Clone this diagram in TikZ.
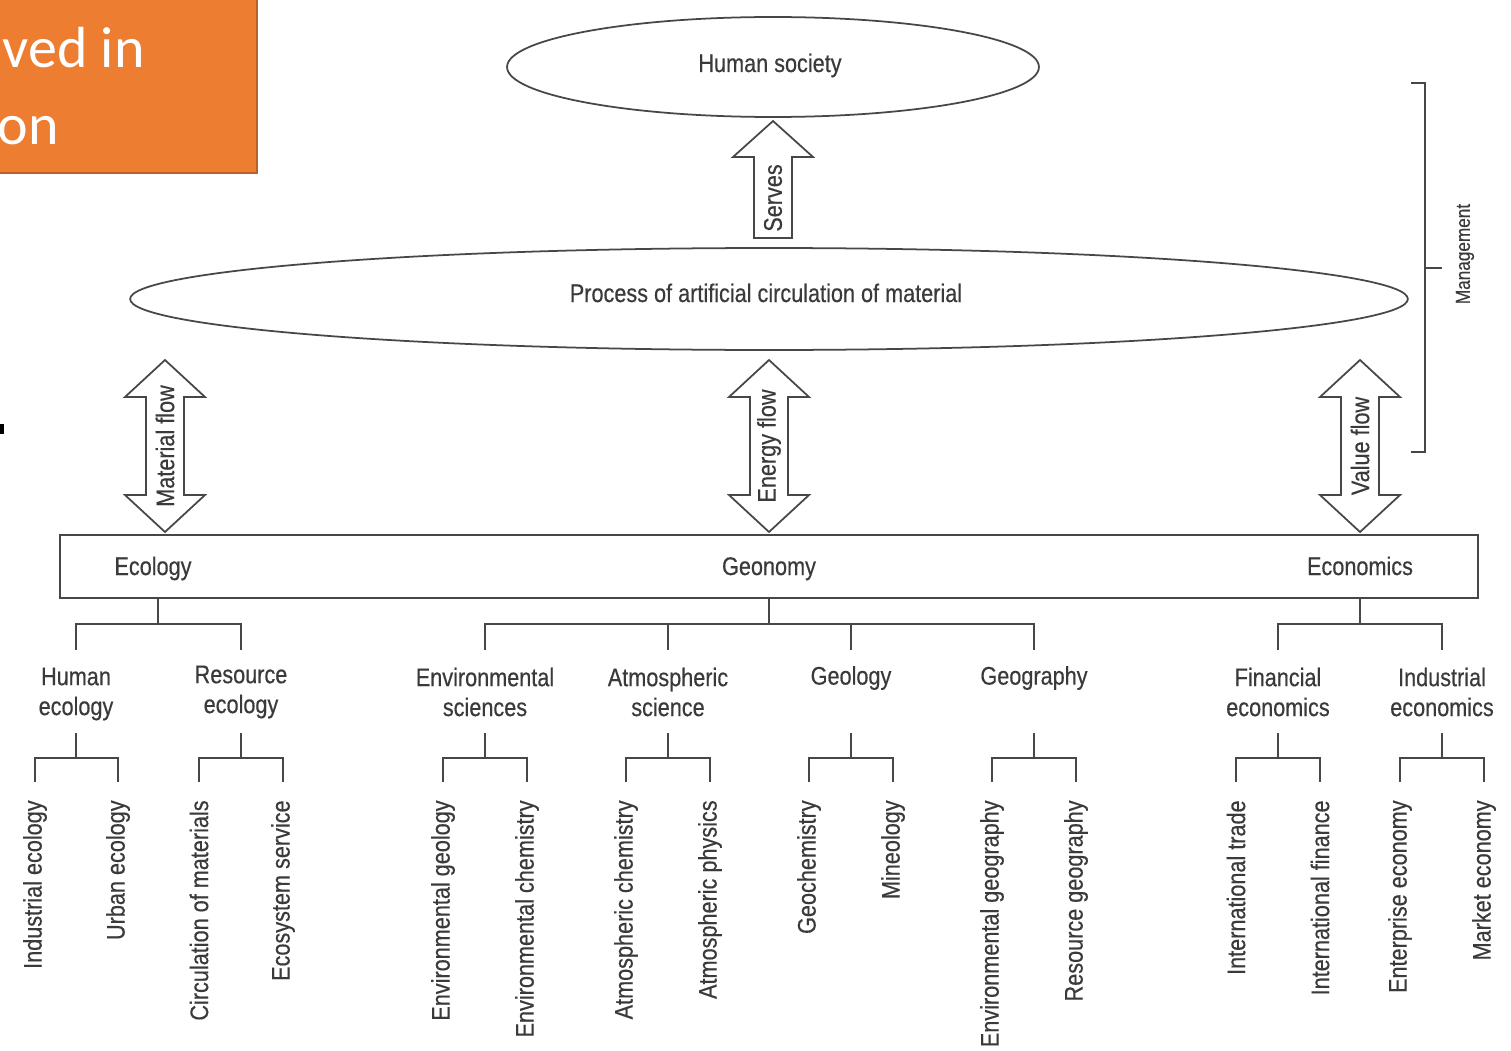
\documentclass[tikz,border=0pt]{standalone}
\usepackage{fontspec}
\setmainfont{Liberation Sans}
\newfontfamily\narfont[FakeStretch=0.85,FakeBold=0.4]{Liberation Sans}
\newfontfamily\calfont{Carlito}
\usetikzlibrary{shapes.geometric,calc}
\definecolor{txtgray}{HTML}{3a3a3a}
\definecolor{lngray}{HTML}{474747}
\definecolor{orangefill}{HTML}{ED7D31}
\definecolor{orangeedge}{HTML}{B9612A}
\begin{document}
\begin{tikzpicture}[x=0.02cm,y=-0.02cm,
  lbl/.style={font=\narfont\fontsize{14.5}{17}\selectfont, text=txtgray, inner sep=0pt, align=center},
  rlbl/.style={lbl, rotate=90},
  ln/.style={draw=lngray, line width=1.1pt},
  shp/.style={draw=lngray, line width=1pt, fill=white},
  ell/.style={shp, ellipse, inner sep=0pt},
  wtxt/.style={font=\calfont\fontsize{33}{38}\selectfont, text=white, inner sep=0pt}]
\useasboundingbox (0,0) rectangle (1511,1051);
\clip (0,0) rectangle (1511,1051);
\fill[white] (0,0) rectangle (1511,1051);

% orange title fragment
\draw[fill=orangefill, draw=orangeedge, line width=1.2pt] (-10,-10) rectangle (257,173);
\node[wtxt, anchor=base east] (t1) at (145,68) {ved in};
\node[wtxt, anchor=base east] (t2) at (59,145) {on};
\fill[black] (0,424) rectangle (4,434);

% ellipses
\node[ell, minimum width=10.64cm, minimum height=2cm] (hs) at (773,67) {};
\node[lbl, anchor=base] (hst) at (770,72) {Human society};
\node[ell, minimum width=25.56cm, minimum height=2.04cm] (pc) at (769,299) {};
\node[lbl, anchor=base] (pct) at (766,302) {Process of artificial circulation of material};

% Serves arrow
\draw[shp] (773,121) -- (813,157) -- (792,157) -- (792,238) -- (754,238) -- (754,157) -- (733,157) -- cycle;
\node[rlbl] (sv) at (773,198) {Serves};

% double arrows
\foreach \cx/\nm/\tx in {165/mf/Material flow, 769/ef/Energy flow, 1360/vf/Value flow}{
  \draw[shp] (\cx,360) -- (\cx+40,397) -- (\cx+19,397) -- (\cx+19,495) -- (\cx+40,495) -- (\cx,532)
     -- (\cx-40,495) -- (\cx-19,495) -- (\cx-19,397) -- (\cx-40,397) -- cycle;
  \node[rlbl] (\nm) at (\cx,446) {\tx};
}

% Management bracket
\draw[ln] (1411,83) -- (1425,83) -- (1425,452) -- (1411,452);
\draw[ln] (1425,268) -- (1442,268);
\node[lbl, rotate=90, font=\narfont\fontsize{11.5}{14}\selectfont] (mg) at (1465,254) {Management};

% main bar
\draw[shp] (60,535) rectangle (1478,598);
\node[lbl, anchor=base] (eco) at (153,575) {Ecology};
\node[lbl, anchor=base] (geo) at (769,575) {Geonomy};
\node[lbl, anchor=base] (ecn) at (1360,575) {Economics};

% level-1 branches
\draw[ln] (158,598) -- (158,624);
\draw[ln] (76,650) -- (76,624) -- (241,624) -- (241,650);
\draw[ln] (769,598) -- (769,624);
\draw[ln] (485,650) -- (485,624) -- (1034,624) -- (1034,650);
\draw[ln] (668,624) -- (668,650);
\draw[ln] (851,624) -- (851,650);
\draw[ln] (1360,598) -- (1360,624);
\draw[ln] (1278,650) -- (1278,624) -- (1442,624) -- (1442,650);

% level-2 labels
\node[lbl] (he) at (76,694) {Human\\ecology};
\node[lbl] (re) at (241,692) {Resource\\ecology};
\node[lbl] (es) at (485,692) {Environmental\\sciences};
\node[lbl] (as) at (668,692) {Atmospheric\\science};
\node[lbl] (gl) at (851,678) {Geology};
\node[lbl] (gg) at (1034,678) {Geography};
\node[lbl] (fe) at (1278,692) {Financial\\economics};
\node[lbl] (ie) at (1442,692) {Industrial\\economics};

% level-2 branches and leaves
\foreach \px/\ax/\bx/\na/\ta/\nb/\tb in {
  76/35/118/c1/Industrial ecology/c2/Urban ecology,
  241/199/283/c3/Circulation of materials/c4/Ecosystem service,
  485/443/527/c5/Environmental geology/c6/Environmental chemistry,
  668/626/710/c7/Atmospheric chemistry/c8/Atmospheric physics,
  851/809/893/c9/Geochemistry/c10/Mineology,
  1034/992/1076/c11/Environmental geography/c12/Resource geography,
  1278/1236/1320/c13/International trade/c14/International finance,
  1442/1400/1484/c15/Enterprise economy/c16/Market economy}{
  \draw[ln] (\px,733) -- (\px,758);
  \draw[ln] (\ax,782) -- (\ax,758) -- (\bx,758) -- (\bx,782);
  \node[rlbl, anchor=east] (\na) at (\ax,800) {\ta};
  \node[rlbl, anchor=east] (\nb) at (\bx,800) {\tb};
}
\end{tikzpicture}
\end{document}
